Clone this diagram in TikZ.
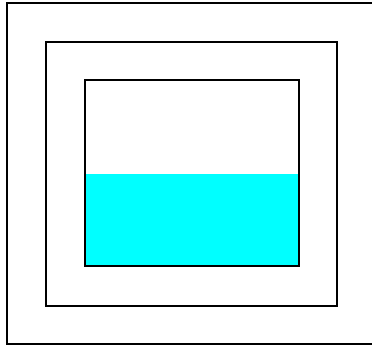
\documentclass[tikz,border=0pt]{standalone}
\definecolor{aqua}{RGB}{0,255,255}
\begin{document}
\begin{tikzpicture}[x=1pt,y=-1pt,box/.style={draw=black,line width=2pt}]
\useasboundingbox (0,0) rectangle (372,348);
\fill[white] (0,0) rectangle (372,348);
\fill[aqua] (85,173.5) rectangle (299,266);
\draw[box] (7,2.5) rectangle (373,343.5);
\draw[box] (46,41.5) rectangle (337,305.5);
\draw[box] (85,80) rectangle (299,266);
\end{tikzpicture}
\end{document}
